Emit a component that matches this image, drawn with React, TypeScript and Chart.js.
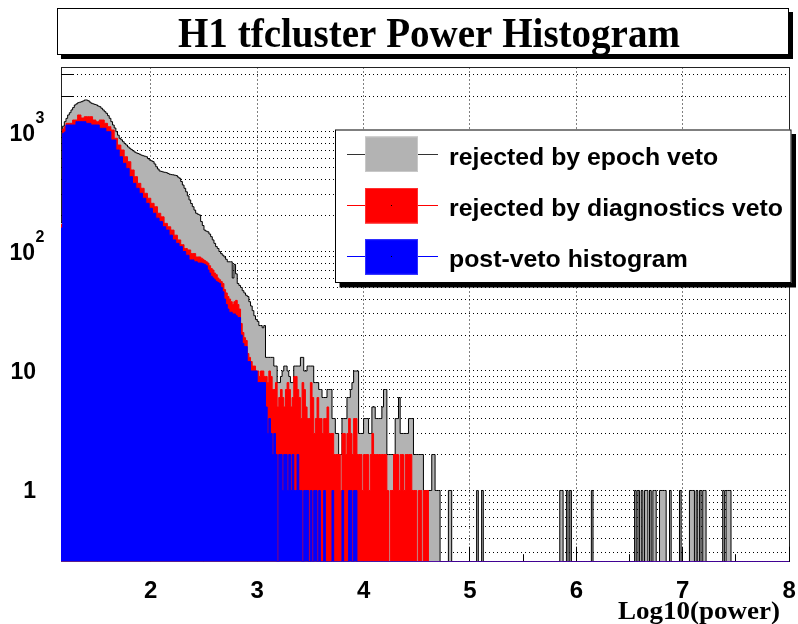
import React, { useEffect, useRef } from "react";
import { Chart, registerables } from "chart.js";

Chart.register(...registerables);

// ---- histogram definition (log10(power) axis) ----
const X_MIN = 1.15625;
const X_MAX = 8;
const BIN_WIDTH = 1 / 64;
const N_BINS = 438;
const Y_MIN = 0.2536;
const Y_MAX = 3465;

const titleText = "H1 tfcluster Power Histogram";
const xAxisTitle = "Log10(power)";
const seriesLabels = ["rejected by epoch veto", "rejected by diagnostics veto", "post-veto histogram"];

// counts per bin, bins 0..227 (all clusters before the epoch veto: grey)
const epochCounts = [
  175, 1120, 1220, 1300, 1388, 1450, 1530, 1600, 1683, 1720,
  1759, 1775, 1793, 1820, 1852, 1852, 1827, 1780, 1739, 1720,
  1700, 1683, 1650, 1628, 1580, 1530, 1480, 1434, 1370, 1302,
  1220, 1144, 1080, 1006, 940, 885, 860, 829, 800, 778,
  750, 730, 712, 697, 680, 668, 660, 651, 640, 633,
  627, 621, 600, 583, 574, 565, 540, 512, 490, 472,
  468, 463, 460, 457, 450, 443, 440, 438, 435, 432,
  420, 410, 385, 360, 338, 316, 292, 270, 252, 237,
  222, 209, 205, 202, 178, 165, 151, 148, 146, 140,
  133, 125, 117, 110, 106, 100, 96, 93, 90, 86,
  82, 82, 82, 60, 78, 65, 54, 52, 50, 47,
  45, 43, 42, 38, 35, 32, 29, 27, 26, 24,
  24, 23, 24, 13, 13, 13, 13, 13, 11, 11,
  8, 8, 9, 10, 11, 11, 10, 9, 8, 8,
  11, 11, 11, 11, 13, 13, 10, 10, 11, 11,
  11, 11, 8, 8, 8, 7, 7, 6, 6, 6,
  7, 7, 7, 4, 4, 3, 3, 2, 2, 4,
  4, 4, 6, 6, 7, 8, 10, 10, 10, 3,
  3, 3, 4, 4, 4, 3, 3, 5, 5, 4,
  4, 4, 4, 5, 7, 7, 2, 2, 2, 2,
  2, 4, 4, 6, 3, 3, 3, 3, 3, 4,
  4, 4, 2, 2, 2, 2, 2, 2, 1, 1,
  1, 1, 1, 2, 2, 1, 1, 1,
];
// isolated single-count bins of the grey histogram beyond bin 227
const epochTailBins = [233, 234, 250, 253, 300, 301, 304, 306, 319, 345, 347, 349, 351, 352, 354, 356, 357,
  360, 361, 362, 363, 366, 372, 378, 379, 380, 382, 384, 386, 387, 398, 400, 401, 402];

// after the epoch veto (red)
const diagCounts = [
  168, 1060, 1108, 1182, 1182, 1182, 1182, 1260, 1260, 1260,
  1388, 1388, 1310, 1310, 1343, 1343, 1343, 1343, 1343, 1260,
  1260, 1220, 1220, 1260, 1260, 1260, 1182, 1182, 1108, 1108,
  1039, 1039, 886, 886, 778, 778, 707, 707, 621, 621,
  564, 564, 481, 481, 423, 423, 372, 372, 338, 338,
  307, 307, 279, 279, 253, 253, 237, 237, 209, 209,
  195, 195, 172, 172, 161, 161, 151, 151, 137, 137,
  125, 125, 114, 114, 106, 106, 103, 103, 96, 96,
  96, 90, 90, 90, 88, 86, 84, 82, 80, 76,
  72, 70, 66, 64, 60, 58, 56, 54, 48, 45,
  42, 40, 38, 36, 38, 39, 36, 33, 25, 21,
  19, 18, 14, 13, 12, 11, 11, 10, 10, 9,
  10, 10, 9, 9, 8, 10, 9, 7, 7, 8,
  5, 6, 7, 6, 5, 7, 8, 7, 5, 6,
  9, 9, 7, 6, 4, 8, 7, 5, 4, 4,
  8, 6, 3, 4, 6, 4, 4, 3, 4, 4,
  5, 3, 3, 3, 2, 2, 2, 2, 1, 3,
  3, 2, 3, 4, 3, 2, 4, 4, 2, 2,
  2, 1, 2, 2, 2, 1, 2, 3, 2, 2,
  2, 2, 2, 2, 2, 2, 1, 0, 1, 1,
  2, 2, 2, 1, 2, 2, 1, 2, 2, 2,
  2, 1, 1, 1, 0, 1, 1, 0, 1, 1,
  1, 0, 0, 0, 0, 0, 0, 0,
];

// after all vetoes (blue)
const postVetoCounts = [
  157, 975, 1000, 1144, 1144, 1144, 1144, 1144, 1144, 1220,
  1220, 1220, 1220, 1220, 1220, 1180, 1180, 1180, 1144, 1144,
  1144, 1144, 1144, 1074, 1074, 1074, 1074, 1006, 1006, 1006,
  857, 857, 857, 707, 707, 621, 621, 547, 547, 496,
  496, 423, 423, 372, 372, 338, 338, 307, 307, 279,
  279, 253, 253, 230, 230, 209, 209, 190, 190, 178,
  178, 161, 161, 151, 151, 137, 137, 125, 125, 117,
  117, 110, 110, 100, 100, 93, 93, 85, 85, 85,
  82, 82, 80, 80, 80, 79, 78, 76, 70, 66,
  62, 60, 58, 56, 55, 54, 50, 46, 40, 36,
  33, 31, 31, 30, 30, 29, 28, 28, 20, 17,
  16, 16, 12, 12, 10, 10, 10, 10, 8, 8,
  8, 8, 8, 5, 3, 4, 3, 2, 3, 2,
  0, 2, 2, 1, 2, 2, 1, 2, 1, 2,
  1, 1, 2, 1, 1, 0, 1, 1, 1, 0,
  1, 0, 1, 1, 0, 1, 0, 0, 1, 0,
  0, 0, 0, 1, 0, 0, 0, 0, 0, 1,
  0, 0, 0, 1, 1, 0, 1, 1, 0, 0,
];

const xMajorTicks = [2, 3, 4, 5, 6, 7, 8];
const xMinorTicks = [1.5, 2.5, 3.5, 4.5, 5.5, 6.5, 7.5];
const yDecadeTicks = [1, 10, 100, 1000];
const yMinorTicks = [
  0.3, 0.4, 0.5, 0.6, 0.7, 0.8, 0.9,
  2, 3, 4, 5, 6, 7, 8, 9,
  20, 30, 40, 50, 60, 70, 80, 90,
  200, 300, 400, 500, 600, 700, 800, 900,
  2000, 3000,
];

const fillColors = ["#b3b3b3", "#ff0000", "#0000ff"];
const lineColors = ["#000000", "#ff0000", "#0000ff"];

function fullCounts(head: number[], tail: number[] = []): number[] {
  const out: number[] = new Array(N_BINS).fill(0);
  head.forEach((v, i) => (out[i] = v));
  tail.forEach((b) => (out[b] = 1));
  return out;
}

function toPoints(counts: number[]) {
  const pts = counts.map((v, i) => ({ x: X_MIN + i * BIN_WIDTH, y: v > 0 ? v : Y_MIN }));
  pts.push({ x: X_MAX, y: Y_MIN });
  return pts;
}

function fitText(ctx: CanvasRenderingContext2D, text: string, x: number, y: number, font: string, k: number, align: CanvasTextAlign) {
  ctx.save();
  ctx.font = font;
  ctx.textAlign = align;
  ctx.textBaseline = "alphabetic";
  ctx.translate(x, y);
  ctx.scale(k, 1);
  ctx.fillText(text, 0, 0);
  ctx.restore();
}

function widthScale(ctx: CanvasRenderingContext2D, text: string, font: string, target: number) {
  ctx.save();
  ctx.font = font;
  const w = ctx.measureText(text).width;
  ctx.restore();
  return w > 0 ? target / w : 1;
}

const decorPlugin = {
  id: "rootDecor",
  beforeDatasetsDraw(chart: any) {
    const { ctx, chartArea: a, scales } = chart;
    const x = scales.x;
    const y = scales.y;
    ctx.save();
    // dotted grid
    ctx.strokeStyle = "#000";
    ctx.lineWidth = 1;
    ctx.setLineDash([1, 3]);
    const allY = [...yMinorTicks, ...yDecadeTicks];
    for (const v of allY) {
      const py = Math.floor(y.getPixelForValue(v)) + 0.5;
      if (py <= a.top + 1 || py >= a.bottom - 1) continue;
      ctx.beginPath();
      ctx.moveTo(a.left, py);
      ctx.lineTo(a.right, py);
      ctx.stroke();
    }
    for (const v of xMajorTicks) {
      const px = Math.floor(x.getPixelForValue(v)) + 0.5;
      ctx.beginPath();
      ctx.moveTo(px, a.top);
      ctx.lineTo(px, a.bottom);
      ctx.stroke();
    }
    ctx.setLineDash([]);
    // frame
    ctx.strokeStyle = "#222";
    ctx.strokeRect(Math.floor(a.left) + 0.5, Math.floor(a.top) + 0.5, Math.round(a.right - a.left), Math.round(a.bottom - a.top));
    // inward ticks
    ctx.strokeStyle = "#000";
    ctx.beginPath();
    for (const v of yDecadeTicks) {
      const py = Math.floor(y.getPixelForValue(v)) + 0.5;
      ctx.moveTo(a.left, py);
      ctx.lineTo(a.left + 24, py);
    }
    for (const v of yMinorTicks) {
      const py = Math.floor(y.getPixelForValue(v)) + 0.5;
      ctx.moveTo(a.left, py);
      ctx.lineTo(a.left + 12, py);
    }
    for (const v of xMajorTicks) {
      const px = Math.floor(x.getPixelForValue(v)) + 0.5;
      ctx.moveTo(px, a.bottom);
      ctx.lineTo(px, a.bottom - 15);
    }
    for (const v of xMinorTicks) {
      const px = Math.floor(x.getPixelForValue(v)) + 0.5;
      ctx.moveTo(px, a.bottom);
      ctx.lineTo(px, a.bottom - 7.5);
    }
    ctx.stroke();
    ctx.restore();
  },
  afterDraw(chart: any) {
    const { ctx, scales } = chart;
    const x = scales.x;
    const y = scales.y;
    const sans = '"Liberation Sans", Arial, Helvetica, sans-serif';
    const serif = '"Liberation Serif", "Times New Roman", Times, serif';
    ctx.save();
    ctx.fillStyle = "#000";

    // y labels
    for (const v of yDecadeTicks) {
      const py = y.getPixelForValue(v);
      const exp = Math.round(Math.log10(v));
      ctx.textBaseline = "middle";
      if (exp < 2) {
        ctx.font = "bold 23px " + sans;
        ctx.textAlign = "right";
        ctx.fillText(String(v), 36, py + 1.5);
      } else {
        ctx.font = "bold 23px " + sans;
        ctx.textAlign = "right";
        ctx.fillText("10", 35, py + 2.5);
        ctx.font = "bold 16px " + sans;
        ctx.textAlign = "left";
        ctx.fillText(String(exp), 35.5, py - 13.5);
      }
    }
    // x labels
    ctx.font = "bold 24px " + sans;
    ctx.textAlign = "center";
    ctx.textBaseline = "middle";
    for (const v of xMajorTicks) {
      ctx.fillText(String(v), x.getPixelForValue(v), 591.5);
    }
    // x axis title
    const atFont = "bold 25px " + serif;
    fitText(ctx, xAxisTitle, 780, 619, atFont, widthScale(ctx, xAxisTitle, atFont, 162), "right");

    // title box
    const tb = { l: 57, t: 8, r: 789, b: 55 };
    ctx.fillStyle = "#000";
    ctx.fillRect(tb.l + 4, tb.t + 4, tb.r - tb.l, tb.b - tb.t);
    ctx.fillStyle = "#fff";
    ctx.fillRect(tb.l, tb.t, tb.r - tb.l, tb.b - tb.t);
    ctx.strokeStyle = "#000";
    ctx.lineWidth = 1;
    ctx.strokeRect(tb.l + 0.5, tb.t + 0.5, tb.r - tb.l - 1, tb.b - tb.t - 1);
    ctx.fillStyle = "#000";
    const tFont = "bold 42px " + serif;
    fitText(ctx, titleText, 429, 47, tFont, widthScale(ctx, titleText, tFont, 502), "center");

    // legend box
    const lb = { l: 335, t: 129.5, r: 791.5, b: 283 };
    ctx.fillStyle = "#000";
    ctx.fillRect(lb.l + 4.5, lb.t + 4.5, lb.r - lb.l, lb.b - lb.t);
    ctx.fillStyle = "#fff";
    ctx.fillRect(lb.l, lb.t, lb.r - lb.l, lb.b - lb.t);
    ctx.strokeStyle = "#000";
    ctx.strokeRect(lb.l + 0.5, lb.t + 0.5, lb.r - lb.l - 1, lb.b - lb.t - 1);
    const rowY = [154, 205.5, 256.7];
    const lFont = "bold 24.5px " + sans;
    const k = widthScale(ctx, seriesLabels[1], lFont, 334);
    const datasets = chart.data.datasets;
    datasets.forEach((ds: any, i: number) => {
      const cy = rowY[i];
      ctx.strokeStyle = i === 0 ? "#333" : ds.borderColor;
      ctx.lineWidth = 1;
      ctx.beginPath();
      ctx.moveTo(347, Math.floor(cy) + 0.5);
      ctx.lineTo(438, Math.floor(cy) + 0.5);
      ctx.stroke();
      ctx.fillStyle = ds.backgroundColor;
      ctx.fillRect(365, cy - 17.5, 53, 35.5);
      ctx.strokeStyle = i === 0 ? "#c8c8c8" : i === 1 ? "#ff3030" : "#3030ff";
      ctx.strokeRect(365.5, cy - 17, 52, 34.5);
      if (i > 0) {
        ctx.fillStyle = "#000";
        ctx.fillRect(391, Math.floor(cy), 1, 1);
      }
      ctx.fillStyle = "#000";
      fitText(ctx, ds.label, 449, cy + 10.5, lFont, k, "left");
    });
    ctx.restore();
  },
};

export default function App() {
  const ref = useRef<HTMLCanvasElement | null>(null);
  useEffect(() => {
    if (!ref.current) return;
    const grey = fullCounts(epochCounts, epochTailBins);
    const red = fullCounts(diagCounts);
    const blue = fullCounts(postVetoCounts);
    const series = [grey, red, blue];
    const chart = new Chart(ref.current, {
      type: "line",
      data: {
        datasets: series.map((c, i) => ({
          label: seriesLabels[i],
          data: toPoints(c),
          stepped: true,
          fill: "start",
          backgroundColor: fillColors[i],
          borderColor: lineColors[i],
          borderWidth: 1,
          pointRadius: 0,
          pointHoverRadius: 0,
          tension: 0,
          order: 3 - i,
        })),
      },
      options: {
        responsive: false,
        animation: false,
        devicePixelRatio: 1,
        events: [],
        layout: { padding: { top: 67.5, right: 8.8, bottom: 0, left: 0 } },
        plugins: {
          legend: { display: false },
          title: { display: false },
          tooltip: { enabled: false },
        },
        scales: {
          x: {
            type: "linear",
            min: X_MIN,
            max: X_MAX,
            bounds: "data",
            grid: { display: false },
            border: { display: false },
            ticks: { display: false },
            afterBuildTicks: (s: any) => {
              s.ticks = xMajorTicks.map((v) => ({ value: v }));
            },
            afterFit: (s: any) => {
              s.height = 62.3;
            },
          },
          y: {
            type: "logarithmic",
            min: Y_MIN,
            max: Y_MAX,
            bounds: "data",
            grid: { display: false },
            border: { display: false },
            ticks: { display: false },
            afterBuildTicks: (s: any) => {
              s.ticks = [...yMinorTicks, ...yDecadeTicks].sort((p, q) => p - q).map((v) => ({ value: v }));
            },
            afterFit: (s: any) => {
              s.width = 61;
            },
          },
        },
      } as any,
      plugins: [decorPlugin],
    } as any);
    return () => chart.destroy();
  }, []);
  return (
    <div style={{ position: "absolute", left: 0, top: 0, width: 798, height: 624, background: "#fff" }}>
      <canvas ref={ref} width={798} height={624} style={{ display: "block", width: 798, height: 624 }} />
    </div>
  );
}
